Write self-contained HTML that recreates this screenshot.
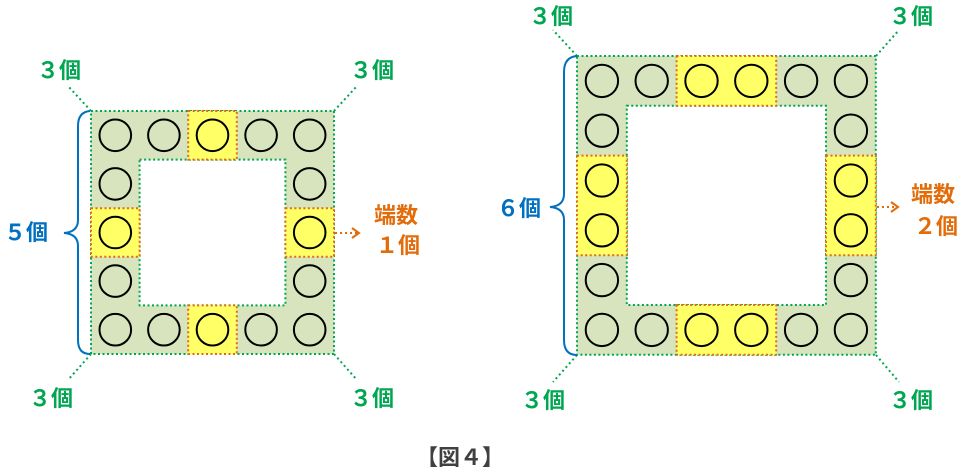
<!DOCTYPE html>
<html><head><meta charset="utf-8"><style>
html,body{margin:0;padding:0;background:#fff;}
svg{display:block;}
text{font-family:"Liberation Sans","Noto Sans CJK JP",sans-serif;font-weight:bold;}
</style></head><body>
<svg id="s" width="972" height="473" xmlns="http://www.w3.org/2000/svg">
<g id="g"></g>
<g stroke="#00a651" stroke-width="2" stroke-dasharray="2,3" fill="none">
<line x1="91" y1="111" x2="68" y2="86"/>
<line x1="334" y1="111" x2="357" y2="86"/>
<line x1="91" y1="354" x2="68" y2="380"/>
<line x1="334" y1="354" x2="357" y2="380"/>
<line x1="577" y1="56" x2="553" y2="30"/>
<line x1="876" y1="56" x2="899" y2="30"/>
<line x1="577" y1="355" x2="553" y2="382"/>
<line x1="876" y1="355" x2="899" y2="382"/>
</g>
<g stroke="#0070c0" stroke-width="2" fill="none">
<path d="M90,111 Q78,112 78,126 L78,220 Q78,232 64,233 Q78,234 78,246 L78,340 Q78,354 90,354"/>
<path d="M577,56 Q564,57 564,72 L564,194 Q564,206 550,207 Q564,208 564,220 L564,340 Q564,355 577,355"/>
</g>
<g stroke="#e36c0a" stroke-width="2" fill="none">
<line x1="335" y1="233" x2="358" y2="233" stroke-dasharray="2,3"/>
<polyline points="352,228 359,233 352,238"/>
<line x1="877" y1="207" x2="898" y2="207" stroke-dasharray="2,3"/>
<polyline points="891,202 898,207 891,212"/>
</g>
<g font-size="22">
<text x="37" y="78" fill="#00a651">３個</text>
<text x="350" y="78" fill="#00a651">３個</text>
<text x="29" y="406" fill="#00a651">３個</text>
<text x="350" y="406" fill="#00a651">３個</text>
<text x="529" y="24" fill="#00a651">３個</text>
<text x="889" y="24" fill="#00a651">３個</text>
<text x="521" y="408" fill="#00a651">３個</text>
<text x="889" y="408" fill="#00a651">３個</text>
<text x="4" y="240" fill="#0070c0">５個</text>
<text x="497" y="216" fill="#0070c0">６個</text>
<text x="374" y="223" fill="#e36c0a">端数</text>
<text x="376" y="253" fill="#e36c0a">１個</text>
<text x="911" y="202" fill="#e36c0a">端数</text>
<text x="914" y="234" fill="#e36c0a">２個</text>
</g>
<text x="416" y="465" font-size="22" fill="#404040">【図４】</text>
</svg>
<script>
var g=document.getElementById('g'),NS='http://www.w3.org/2000/svg';
function el(t,a){var e=document.createElementNS(NS,t);for(var k in a)e.setAttribute(k,a[k]);g.appendChild(e);return e;}
function fig(ox,oy,c,n,ys){
 var L=c*n;
 el('rect',{x:ox,y:oy,width:L,height:L,fill:'#d7e4bd'});
 el('rect',{x:ox+c,y:oy+c,width:L-2*c,height:L-2*c,fill:'#fff'});
 var g1=ys[0],g2=ys[ys.length-1]+1;
 el('rect',{x:ox,y:oy,width:L,height:L,fill:'none',stroke:'#00a651','stroke-width':2,'stroke-dasharray':'2,2.5'});
 el('rect',{x:ox+c,y:oy+c,width:L-2*c,height:L-2*c,fill:'none',stroke:'#00a651','stroke-width':2,'stroke-dasharray':'2,2.5'});
 var w=(g2-g1)*c;
 [[ox+g1*c,oy,w,c],[ox+g1*c,oy+L-c,w,c],[ox,oy+g1*c,c,w],[ox+L-c,oy+g1*c,c,w]].forEach(function(r){
  el('rect',{x:r[0],y:r[1],width:r[2],height:r[3],fill:'#ffff66',stroke:'#e36c0a','stroke-width':2,'stroke-dasharray':'2,2.5'});
 });
 for(var i=0;i<n;i++)for(var j=0;j<n;j++){
  if(i>0&&i<n-1&&j>0&&j<n-1)continue;
  el('circle',{cx:ox+c*i+c/2,cy:oy+c*j+c/2,r:c*0.325,fill:'none',stroke:'#000','stroke-width':2});
 }
}
fig(91,111,48.6,5,[2]);
fig(577,56,49.8,6,[2,3]);
</script>
</body></html>
